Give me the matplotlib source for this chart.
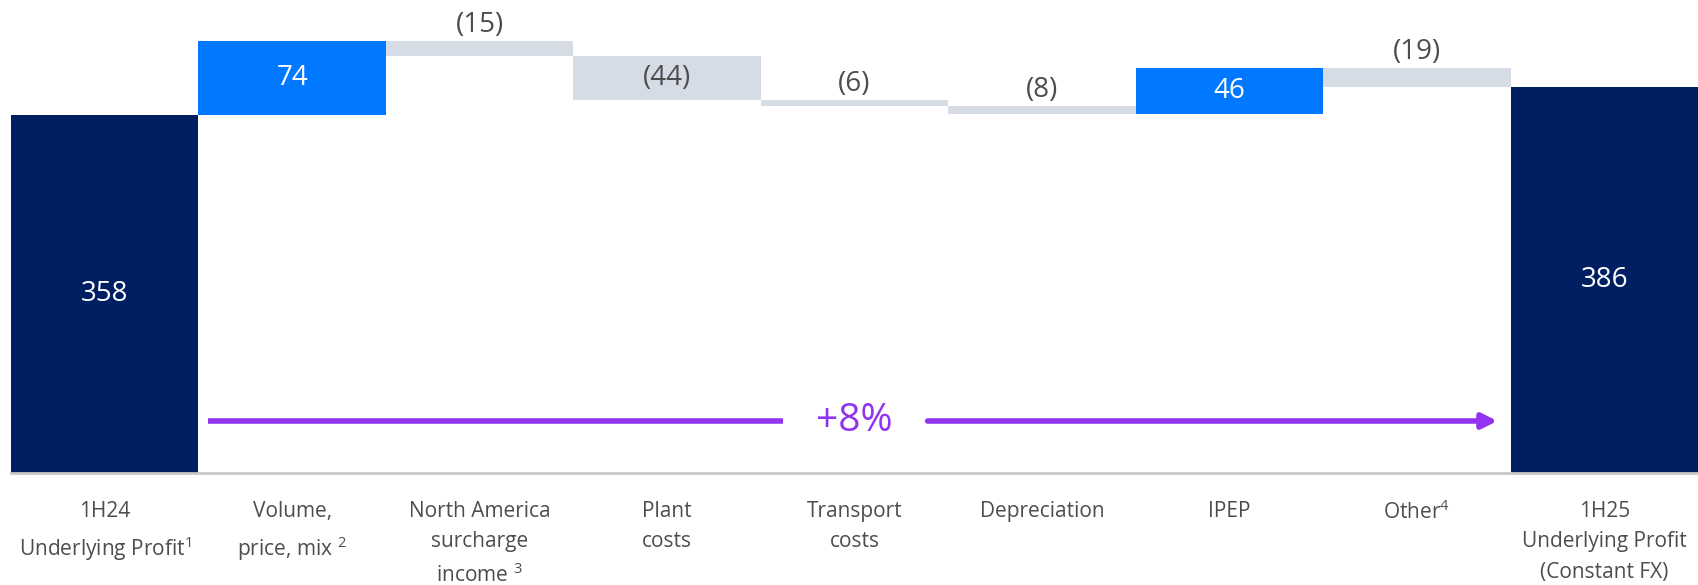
import numpy as np
import matplotlib.pyplot as plt

plt.rcParams['font.family'] = ['Open Sans', 'DejaVu Sans']
plt.rcParams['mathtext.default'] = 'regular'

# === Data ===
categories = ['1H24\nUnderlying Profit$^{1}$', 'Volume,\nprice, mix $^{2}$',
              'North America\nsurcharge\nincome $^{3}$', 'Plant\ncosts',
              'Transport\ncosts', 'Depreciation', 'IPEP', 'Other$^{4}$',
              '1H25\nUnderlying Profit\n(Constant FX)']
start_value = 358
deltas = [74, -15, -44, -6, -8, 46, -19]
end_value = 386
growth_label = '+8%'

navy = '#001E62'
blue = '#0078FF'
grey = '#D6DCE6'
purple = '#9234EF'
text_grey = '#4D4D4D'

# waterfall bottoms / heights
running = start_value + np.concatenate([[0], np.cumsum(deltas)])
bottoms = [0]
heights = [start_value]
colors = [navy]
for i, d in enumerate(deltas):
    bottoms.append(min(running[i], running[i + 1]))
    heights.append(abs(d))
    colors.append(blue if d > 0 else grey)
bottoms.append(0)
heights.append(end_value)
colors.append(navy)
values = [start_value] + deltas + [end_value]

fig = plt.figure(figsize=(16.98, 5.85), dpi=100)
ax = fig.add_axes([11 / 1698, 112 / 585, 1687 / 1698, 473 / 585])
x = np.arange(len(categories))
ax.bar(x, heights, bottom=bottoms, width=1.0, color=colors, linewidth=0)

# value labels: inside tall bars, above thin ones
for i, (b, h, v) in enumerate(zip(bottoms, heights, values)):
    label = f'({abs(v)})' if v < 0 else f'{v}'
    if h > 30:
        col = 'white' if colors[i] != grey else text_grey
        ax.text(i, b + h / 2, label, ha='center', va='center', fontsize=20, color=col)
    else:
        ax.text(i, b + h + 2, label, ha='center', va='bottom', fontsize=20, color=text_grey)

# growth arrow
arrow_y = 52
ax.plot([0.55, 3.62], [arrow_y, arrow_y], color=purple, lw=4, solid_capstyle='butt')
ax.annotate('', xy=(7.43, arrow_y), xytext=(4.39, arrow_y),
            arrowprops=dict(arrowstyle='-|>', color=purple, lw=4, mutation_scale=22,
                            shrinkA=0, shrinkB=0))
ax.text(4.0, arrow_y, growth_label, ha='center', va='center', fontsize=28, color=purple)

ax.set_xlim(-0.5, len(categories) - 0.5)
ax.set_ylim(0, 473)
ax.set_xticks(x)
ax.set_xticklabels(categories, fontsize=15, color=text_grey, linespacing=1.6)
ax.tick_params(axis='x', length=0, pad=20)
ax.set_yticks([])
for s in ['top', 'left', 'right']:
    ax.spines[s].set_visible(False)
ax.spines['bottom'].set_color('#C8C8C8')
ax.spines['bottom'].set_linewidth(2)

fig.savefig('out.png', dpi=100)
